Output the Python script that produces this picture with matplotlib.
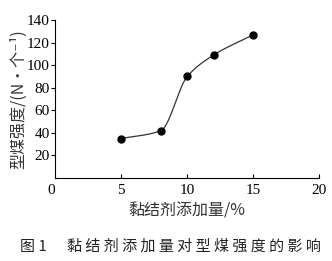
import numpy as np
import matplotlib
matplotlib.use("Agg")
import matplotlib.pyplot as plt

binder = [5, 8, 10, 12, 15]          # 黏结剂添加量 %
strength = [35, 42, 90, 109, 127]    # 型煤强度 N/个

xticks = [0, 5, 10, 15, 20]
yticks = [20, 40, 60, 80, 100, 120, 140]

cjk = ["Noto Sans CJK SC", "DejaVu Sans"]
num_font = "Liberation Serif"


def pchip(x, y, xs):
    # monotone cubic hermite, for a smooth line through the points
    x = np.asarray(x, float)
    y = np.asarray(y, float)
    h = np.diff(x)
    d = np.diff(y) / h
    m = np.zeros_like(y)
    for k in range(1, len(x) - 1):
        if d[k - 1] * d[k] > 0:
            w1 = 2 * h[k] + h[k - 1]
            w2 = h[k] + 2 * h[k - 1]
            m[k] = (w1 + w2) / (w1 / d[k - 1] + w2 / d[k])
    m[0] = d[0]
    m[-1] = d[-1]
    out = np.empty_like(xs)
    for i, xv in enumerate(xs):
        k = min(np.searchsorted(x, xv, side="right") - 1, len(x) - 2)
        t = (xv - x[k]) / h[k]
        h00 = 2 * t**3 - 3 * t**2 + 1
        h10 = t**3 - 2 * t**2 + t
        h01 = -2 * t**3 + 3 * t**2
        h11 = t**3 - t**2
        out[i] = h00 * y[k] + h10 * h[k] * m[k] + h01 * y[k + 1] + h11 * h[k] * m[k + 1]
    return out


fig = plt.figure(figsize=(3.32, 2.61), dpi=100)
ax = fig.add_axes([0.167, 0.318, 0.794, 0.605])

xs = np.linspace(binder[0], binder[-1], 300)
ax.plot(xs, pchip(binder, strength, xs), color="#333333", lw=0.9)
ax.plot(binder, strength, "o", color="black", ms=5)

ax.set_xlim(0, 20)
ax.set_ylim(0, 140)
ax.spines["top"].set_visible(False)
ax.spines["right"].set_visible(False)
ax.set_xticks(xticks)
ax.set_yticks(yticks)
ax.tick_params(axis="x", direction="in", length=3, width=0.8, pad=4)
ax.tick_params(axis="y", direction="out", length=3, width=0.8, pad=1)
for lab in ax.get_xticklabels() + ax.get_yticklabels():
    lab.set_fontfamily(num_font)
    lab.set_fontsize(11)
ax.get_xticklabels()[0].set_ha("right")
ax.xaxis.get_major_ticks()[0].tick1line.set_visible(False)

ax.set_xlabel("黏结剂添加量/%", family=cjk, fontsize=11.5, color="#333333", labelpad=4)
ax.set_ylabel("型煤强度/(N•个⁻¹)", family=cjk, fontsize=11.5, color="#333333", labelpad=0)

fig.text(0.514, 0.054, "图 1      黏 结 剂 添 加 量 对 型 煤 强 度 的 影 响",
         family=cjk, fontsize=10.8, ha="center", va="center", color="#222222")

fig.savefig("out.png", dpi=100)
